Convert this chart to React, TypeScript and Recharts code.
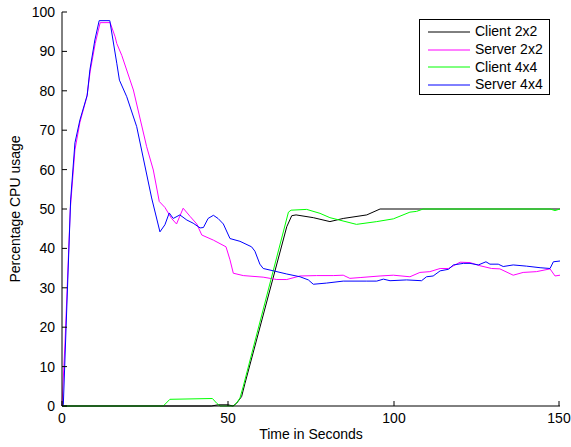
import { LineChart, Line, XAxis, YAxis, Legend } from 'recharts';

const FONT = '"Liberation Sans", Arial, Helvetica, sans-serif';

// time (s) / CPU % pairs, one pair of arrays per series
const client22T = [0, 45, 47, 50, 51.5, 52.6, 54.1, 55.1, 67.7, 69.2, 70.5, 75.7, 80.7, 84.7, 91.8, 95.8, 150];
const client22V = [0, 0, 0.3, 0.3, 0, 0.7, 2.4, 5.7, 45.5, 48.3, 48.5, 47.8, 46.8, 47.6, 48.5, 50, 50];

const server22T = [
  0, 0.9, 2.5, 3.9, 5.4, 7.5, 8.5, 10, 11.5, 14.5, 16, 16.5, 18, 21.5, 25.5, 27.5, 29.3, 31, 33, 34.5,
  36.5, 38.6, 40.6, 42.1, 45.6, 49.4, 50.6, 51.6, 54.6, 60.6, 64.7, 67.7, 71.7, 76.7, 81.7, 84.7, 86.7,
  89.8, 95.8, 99.8, 104.8, 107.8, 110.8, 113.9, 116.4, 119.9, 122.9, 125.9, 129.4, 131.9, 135.9, 138.9,
  142.9, 147, 148.5, 150,
];
const server22V = [
  0, 16, 50, 65, 72, 78.5, 85, 92, 97.3, 97.3, 93.7, 92, 89, 80.2, 65.8, 59.9, 51.9, 50.4, 47.6, 46.2,
  50.2, 48.1, 46.2, 43.4, 42.1, 40.4, 37.1, 33.7, 33.1, 32.7, 32.1, 32.1, 33, 33.1, 33.1, 33.2, 32.4,
  32.6, 33, 33.2, 32.8, 33.9, 34.1, 34.9, 34.9, 36.5, 36.4, 35.6, 34.9, 34.8, 33.2, 33.9,
  34.1, 34.8, 33, 33.2,
];

const client44T = [
  0, 30.5, 32.5, 45.3, 46.6, 47.6, 51.6, 52.6, 53.6, 54.6, 68.2, 69, 73.7, 77.7, 80.7, 88.7, 94.8, 99.8,
  104.8, 106.8, 108.8, 147, 148.5, 150,
];
const client44V = [
  0, 0, 1.7, 1.9, 0.7, 0, 0, 0.8, 2, 5, 49.2, 49.7, 49.9, 48.9, 47.8, 46.1, 46.8, 47.5,
  49.2, 49.4, 50, 50, 49.6, 50,
];

const server44T = [
  0, 0.4, 2.6, 3.9, 5.4, 7.6, 8.4, 9.9, 11.2, 14.4, 16.5, 17.3, 19.5, 22.5, 27, 29.5, 31, 32.3, 33.5,
  35.5, 37.6, 39.5, 41.6, 42.6, 44, 45.6, 47, 48.6, 50.6, 53.6, 57.1, 58.1, 59.6, 60.6, 63.7, 67.7, 71.7,
  74.2, 75.7, 79.7, 84.7, 91.8, 94.8, 96.8, 98.8, 103.8, 108.3, 109.8, 111.8, 113.9, 116.4, 117.9, 120.9,
  122.9, 125.4, 127.7, 128.9, 131.4, 132.9, 135.9, 139.9, 144, 147, 148, 150,
];
const server44V = [
  0, 0.3, 52.3, 66.8, 72.6, 78.9, 85.3, 92.9, 97.8, 97.8, 87, 82.7, 78.5, 70.9, 52.8, 44.2, 46, 49, 47.6,
  48.5, 47.2, 46.4, 45.2, 45.3, 47.6, 48.4, 47.6, 46.2, 42.5, 41.8, 40.4, 39.3, 36, 34.9, 34.3, 33.5, 32.8,
  32, 30.9, 31.2, 31.7, 31.7, 31.7, 32.2, 31.8, 32, 31.8, 32.8, 33, 34.3, 34.7, 35.8, 36.2,
  36.2, 35.8, 36.6, 36, 36, 35.4, 35.8, 35.5, 35.1, 34.9, 36.6, 36.8,
];

const xTicks = [0, 50, 100, 150];
const yTicks = [0, 10, 20, 30, 40, 50, 60, 70, 80, 90, 100];

const toPoints = (t: number[], v: number[]) => t.map((x, i) => ({ t: x, v: v[i] }));

const series = [
  { name: 'Client 2x2', color: '#000000', data: toPoints(client22T, client22V) },
  { name: 'Server 2x2', color: '#ff00ff', data: toPoints(server22T, server22V) },
  { name: 'Client 4x4', color: '#00ff00', data: toPoints(client44T, client44V) },
  { name: 'Server 4x4', color: '#0000ff', data: toPoints(server44T, server44V) },
];

const BottomTick = ({ x, y, payload }: any) => (
  <g>
    <line x1={x} y1={y} x2={x} y2={y - 5} stroke="#000" />
    <text x={x} y={y + 17} textAnchor="middle" fontSize={14} fontFamily={FONT} fill="#000">
      {payload.value}
    </text>
  </g>
);

const LeftTick = ({ x, y, payload }: any) => (
  <g>
    <line x1={x} y1={y} x2={x + 5} y2={y} stroke="#000" />
    <text x={x - 7} y={y + 5} textAnchor="end" fontSize={14} fontFamily={FONT} fill="#000">
      {payload.value}
    </text>
  </g>
);

const TopTick = ({ x, y }: any) => <line x1={x} y1={y} x2={x} y2={y + 5} stroke="#000" />;
const RightTick = ({ x, y }: any) => <line x1={x} y1={y} x2={x - 5} y2={y} stroke="#000" />;

const LegendBox = () => (
  <div
    style={{
      border: '1px solid #000',
      background: '#fff',
      width: 129,
      paddingTop: 3,
      paddingBottom: 0,
      fontFamily: FONT,
      fontSize: 14,
      color: '#000',
      boxSizing: 'content-box',
    }}
  >
    {series.map((s) => (
      <div key={s.name} style={{ height: 17.75, display: 'flex', alignItems: 'center' }}>
        <svg width={55} height={10} style={{ display: 'block' }}>
          <line x1={8} y1={5} x2={50} y2={5} stroke={s.color} strokeWidth={1} />
        </svg>
        <span style={{ lineHeight: '17.75px' }}>{s.name}</span>
      </div>
    ))}
  </div>
);

export default function App() {
  return (
    <div style={{ position: 'absolute', left: 0, top: 0 }}>
      <LineChart width={571} height={447} margin={{ top: 12, right: 11, bottom: 11, left: 0 }}>
        <XAxis
          dataKey="t"
          type="number"
          domain={[0, 150]}
          ticks={xTicks}
          height={30}
          tickSize={0}
          tickMargin={0}
          stroke="#000"
          tick={(p: any) => <BottomTick {...p} />}
          label={{
            content: ({ viewBox }: any) => (
              <text
                x={viewBox.x + viewBox.width / 2}
                y={viewBox.y + 33}
                textAnchor="middle"
                fontSize={14}
                fontFamily={FONT}
                fill="#000"
              >
                Time in Seconds
              </text>
            ),
          }}
        />
        <XAxis
          xAxisId="top"
          orientation="top"
          dataKey="t"
          type="number"
          domain={[0, 150]}
          ticks={xTicks}
          height={0}
          tickSize={0}
          tickMargin={0}
          stroke="#000"
          tick={(p: any) => <TopTick {...p} />}
        />
        <YAxis
          type="number"
          domain={[0, 100]}
          ticks={yTicks}
          width={62}
          tickSize={0}
          tickMargin={0}
          stroke="#000"
          tick={(p: any) => <LeftTick {...p} />}
          label={{
            content: ({ viewBox }: any) => {
              const cy = viewBox.y + viewBox.height / 2;
              return (
                <text
                  x={20}
                  y={cy}
                  transform={`rotate(-90 20 ${cy})`}
                  textAnchor="middle"
                  fontSize={14}
                  fontFamily={FONT}
                  fill="#000"
                >
                  Percentage CPU usage
                </text>
              );
            },
          }}
        />
        <YAxis
          yAxisId="right"
          orientation="right"
          type="number"
          domain={[0, 100]}
          ticks={yTicks}
          width={0}
          tickSize={0}
          tickMargin={0}
          stroke="#000"
          tick={(p: any) => <RightTick {...p} />}
        />
        <Legend
          layout="vertical"
          align="center"
          verticalAlign="middle"
          wrapperStyle={{ top: 19, left: 419, width: 131, right: 'auto', bottom: 'auto' }}
          content={() => <LegendBox />}
        />
        {series.map((s) => (
          <Line
            key={s.name}
            name={s.name}
            data={s.data}
            dataKey="v"
            type="linear"
            stroke={s.color}
            strokeWidth={1}
            dot={false}
            activeDot={false}
            isAnimationActive={false}
          />
        ))}
      </LineChart>
    </div>
  );
}
